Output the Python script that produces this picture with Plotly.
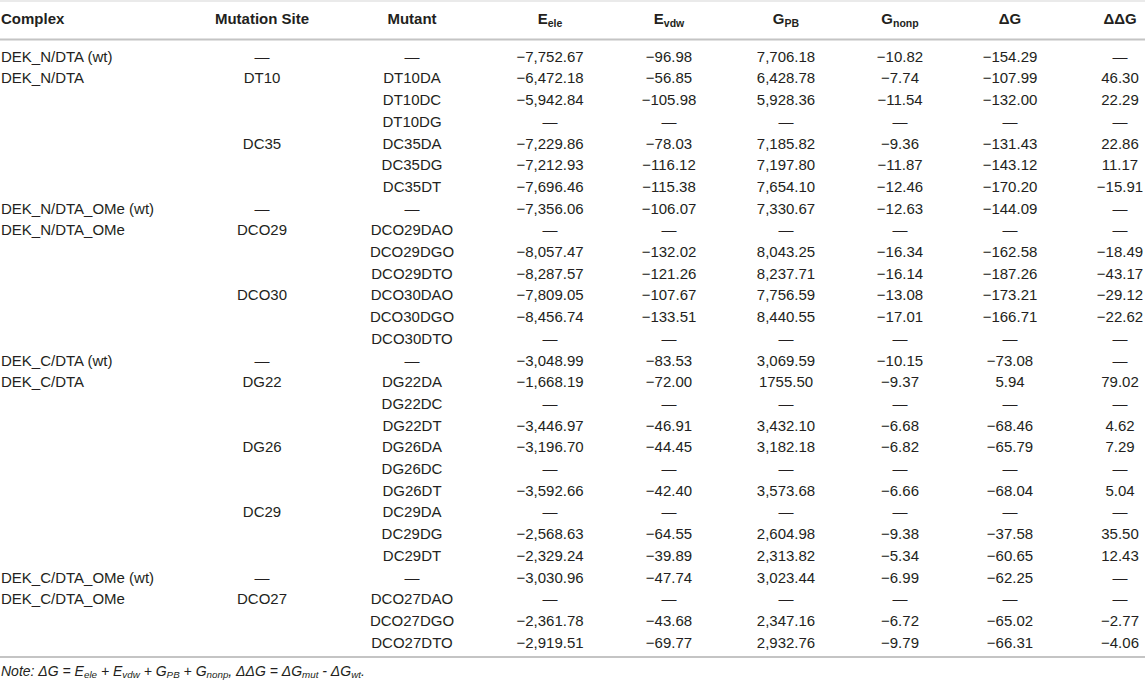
import plotly.graph_objects as go

# ── table content ────────────────────────────────────────────────────────────
D = "—"
headers = ["Complex", "Mutation Site", "Mutant",
           "E<sub>ele</sub>", "E<sub>vdw</sub>", "G<sub>PB</sub>",
           "G<sub>nonp</sub>", "ΔG", "ΔΔG"]

complex_ = ["DEK_N/DTA (wt)", "DEK_N/DTA", "", "", "", "", "",
            "DEK_N/DTA_OMe (wt)", "DEK_N/DTA_OMe", "", "", "", "", "",
            "DEK_C/DTA (wt)", "DEK_C/DTA", "", "", "", "", "", "", "", "",
            "DEK_C/DTA_OMe (wt)", "DEK_C/DTA_OMe", "", ""]
site = [D, "DT10", "", "", "DC35", "", "",
        D, "DCO29", "", "", "DCO30", "", "",
        D, "DG22", "", "", "DG26", "", "", "DC29", "", "",
        D, "DCO27", "", ""]
mutant = [D, "DT10DA", "DT10DC", "DT10DG", "DC35DA", "DC35DG", "DC35DT",
          D, "DCO29DAO", "DCO29DGO", "DCO29DTO", "DCO30DAO", "DCO30DGO", "DCO30DTO",
          D, "DG22DA", "DG22DC", "DG22DT", "DG26DA", "DG26DC", "DG26DT",
          "DC29DA", "DC29DG", "DC29DT",
          D, "DCO27DAO", "DCO27DGO", "DCO27DTO"]
e_ele = ["−7,752.67", "−6,472.18", "−5,942.84", D, "−7,229.86", "−7,212.93", "−7,696.46",
         "−7,356.06", D, "−8,057.47", "−8,287.57", "−7,809.05", "−8,456.74", D,
         "−3,048.99", "−1,668.19", D, "−3,446.97", "−3,196.70", D, "−3,592.66",
         D, "−2,568.63", "−2,329.24",
         "−3,030.96", D, "−2,361.78", "−2,919.51"]
e_vdw = ["−96.98", "−56.85", "−105.98", D, "−78.03", "−116.12", "−115.38",
         "−106.07", D, "−132.02", "−121.26", "−107.67", "−133.51", D,
         "−83.53", "−72.00", D, "−46.91", "−44.45", D, "−42.40",
         D, "−64.55", "−39.89",
         "−47.74", D, "−43.68", "−69.77"]
g_pb = ["7,706.18", "6,428.78", "5,928.36", D, "7,185.82", "7,197.80", "7,654.10",
        "7,330.67", D, "8,043.25", "8,237.71", "7,756.59", "8,440.55", D,
        "3,069.59", "1755.50", D, "3,432.10", "3,182.18", D, "3,573.68",
        D, "2,604.98", "2,313.82",
        "3,023.44", D, "2,347.16", "2,932.76"]
g_nonp = ["−10.82", "−7.74", "−11.54", D, "−9.36", "−11.87", "−12.46",
          "−12.63", D, "−16.34", "−16.14", "−13.08", "−17.01", D,
          "−10.15", "−9.37", D, "−6.68", "−6.82", D, "−6.66",
          D, "−9.38", "−5.34",
          "−6.99", D, "−6.72", "−9.79"]
dg = ["−154.29", "−107.99", "−132.00", D, "−131.43", "−143.12", "−170.20",
      "−144.09", D, "−162.58", "−187.26", "−173.21", "−166.71", D,
      "−73.08", "5.94", D, "−68.46", "−65.79", D, "−68.04",
      D, "−37.58", "−60.65",
      "−62.25", D, "−65.02", "−66.31"]
ddg = [D, "46.30", "22.29", D, "22.86", "11.17", "−15.91",
       D, D, "−18.49", "−43.17", "−29.12", "−22.62", D,
       D, "79.02", D, "4.62", "7.29", D, "5.04",
       D, "35.50", "12.43",
       D, D, "−2.77", "−4.06"]

note = ("<i>Note: ΔG = E<sub>ele</sub> + E<sub>vdw</sub> + G<sub>PB</sub> + "
        "G<sub>nonp</sub>, ΔΔG = ΔG<sub>mut</sub> - ΔG<sub>wt</sub>.</i>")

columns = [complex_, site, mutant, e_ele, e_vdw, g_pb, g_nonp, dg, ddg]

# ── layout ───────────────────────────────────────────────────────────────────
W, H = 1145, 684
col_x = [1, 262, 412, 550, 669, 786, 900, 1010, 1120]
first_px, row_px = 58, 21.7
FONT = "Liberation Sans, Arial, sans-serif"
INK = "#231f20"


def row_at(px):
    return (px - first_px) / row_px


fig = go.Figure()
for i, col in enumerate(columns):
    pos = "middle right" if i == 0 else "middle center"
    cells = [(r, t) for r, t in enumerate(col) if t]
    fig.add_trace(go.Scatter(
        x=[col_x[i]] * len(cells), y=[r for r, _ in cells],
        text=[t for _, t in cells], mode="text",
        textposition=pos, textfont=dict(family=FONT, size=15, color=INK),
        hoverinfo="skip", showlegend=False,
    ))
    fig.add_trace(go.Scatter(
        x=[col_x[i]], y=[row_at(20)], text=[f"<b>{headers[i]}</b>"], mode="text",
        textposition=pos, textfont=dict(family=FONT, size=15, color=INK),
        hoverinfo="skip", showlegend=False,
    ))

fig.add_trace(go.Scatter(
    x=[1], y=[row_at(672)], text=[note], mode="text", textposition="middle right",
    textfont=dict(family=FONT, size=14, color=INK),
    hoverinfo="skip", showlegend=False,
))

for px, color, width in [(1, "#e3e3e3", 1.5), (39.5, "#c4c4c4", 2), (657, "#c4c4c4", 2)]:
    fig.add_shape(type="line", xref="paper", x0=0, x1=1, yref="y",
                  y0=row_at(px), y1=row_at(px), line=dict(color=color, width=width))

fig.update_layout(
    width=W, height=H, margin=dict(l=0, r=0, t=0, b=0),
    paper_bgcolor="white", plot_bgcolor="white",
    xaxis=dict(range=[0, W], visible=False, fixedrange=True),
    yaxis=dict(range=[row_at(H), row_at(0)], visible=False, fixedrange=True),
)

# page body has an 8px default margin; drop it so the table sits at the window edge
fig.write_html("out.html", config={"displayModeBar": False},
               post_script="document.body.style.margin='0';")
